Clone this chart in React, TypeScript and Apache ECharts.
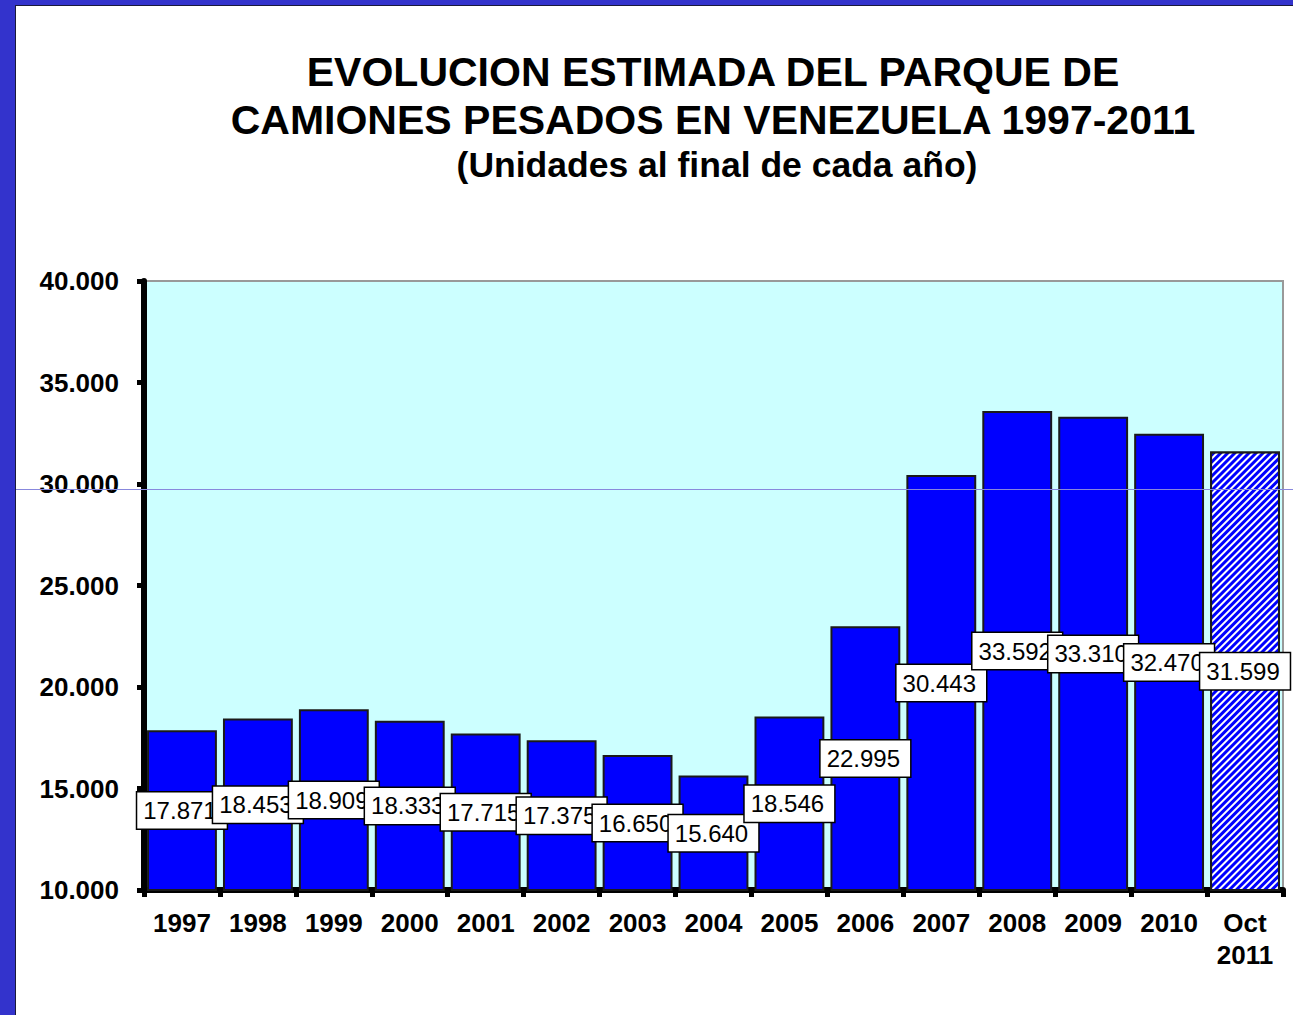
import React, { useEffect, useRef } from "react";
import * as echarts from "echarts";

const categories = ["1997", "1998", "1999", "2000", "2001", "2002", "2003", "2004", "2005", "2006", "2007", "2008", "2009", "2010", "Oct\n2011"];
const values = [17871, 18453, 18909, 18333, 17715, 17375, 16650, 15640, 18546, 22995, 30443, 33592, 33310, 32470, 31599];
const hatchedIndex = [14];
const titleLines = ["EVOLUCION ESTIMADA DEL PARQUE DE", "CAMIONES PESADOS EN VENEZUELA 1997-2011"];
const subtitle = "(Unidades al final de cada año)";
const yMin = 10000;
const yMax = 40000;
const yStep = 5000;

const FONT = "'Liberation Sans', Arial, sans-serif";

function fmt(v: number): string {
  return String(Math.round(v)).replace(/\B(?=(\d{3})+(?!\d))/g, ".");
}

export default function App() {
  const ref = useRef<HTMLDivElement>(null);
  useEffect(() => {
    document.body.style.margin = "0";
    const chart = echarts.init(ref.current as HTMLDivElement, null, { renderer: "svg" });
    chart.setOption({
      animation: false,
      backgroundColor: "#FFFFFF",
      grid: {
        left: 144,
        top: 281,
        width: 1139,
        height: 609,
        show: true,
        backgroundColor: "#CCFFFF",
        borderColor: "#999999",
        borderWidth: 2,
      },
      xAxis: {
        type: "category",
        data: categories,
        axisLine: { lineStyle: { color: "#000", width: 6 } },
        axisTick: { show: true, length: 7, lineStyle: { color: "#000", width: 5 } },
        axisLabel: {
          interval: 0,
          margin: 17,
          fontSize: 26,
          fontWeight: "bold",
          color: "#000",
          fontFamily: FONT,
          lineHeight: 32,
        },
        splitLine: { show: false },
      },
      yAxis: {
        type: "value",
        min: yMin,
        max: yMax,
        interval: yStep,
        axisLine: { show: true, lineStyle: { color: "#000", width: 6 } },
        axisTick: { show: true, length: 7, lineStyle: { color: "#000", width: 5 } },
        axisLabel: {
          margin: 25,
          fontSize: 26,
          fontWeight: "bold",
          color: "#000",
          fontFamily: FONT,
          formatter: (v: number) => fmt(v),
        },
        splitLine: { show: false },
      },
      series: [
        {
          type: "bar",
          barCategoryGap: "8%",
          data: values.map((v, i) =>
            hatchedIndex.includes(i)
              ? {
                  value: v,
                  itemStyle: {
                    color: "#0000FF",
                    decal: {
                      symbol: "rect",
                      symbolSize: 1,
                      color: "#FFFFFF",
                      dashArrayX: [1, 0],
                      dashArrayY: [2, 2.5],
                      rotation: -Math.PI / 4,
                    },
                  },
                }
              : v
          ),
          itemStyle: { color: "#0000FF", borderColor: "#1a1a1a", borderWidth: 2 },
          label: {
            show: true,
            position: "inside",
            formatter: (p: any) => fmt(p.value),
            fontSize: 24,
            fontFamily: FONT,
            color: "#000",
            backgroundColor: "#FFFFFF",
            borderColor: "#000",
            borderWidth: 1.5,
            padding: [5, 10, 5, 6],
            lineHeight: 26,
          },
        },
      ],
      graphic: [
        { type: "rect", z: 100, shape: { x: 0, y: 0, width: 15, height: 1015 }, style: { fill: "#3333CC" } },
        { type: "rect", z: 100, shape: { x: 0, y: 0, width: 1293, height: 5 }, style: { fill: "#3333CC" } },
        { type: "line", z: 100, shape: { x1: 15.5, y1: 5, x2: 15.5, y2: 1015 }, style: { stroke: "#1a1a3a", lineWidth: 1 } },
        { type: "line", z: 100, shape: { x1: 15, y1: 5.5, x2: 1293, y2: 5.5 }, style: { stroke: "#1a1a3a", lineWidth: 1 } },
        { type: "line", z: 90, shape: { x1: 16, y1: 489.5, x2: 1293, y2: 489.5 }, style: { stroke: "#8888DD", lineWidth: 1 } },
        {
          type: "text",
          z: 100,
          x: 713,
          y: 72,
          style: { text: titleLines[0], fontSize: 41, fontWeight: "bold", fontFamily: FONT, fill: "#000", align: "center", verticalAlign: "middle" },
        },
        {
          type: "text",
          z: 100,
          x: 713,
          y: 120,
          style: { text: titleLines[1], fontSize: 41, fontWeight: "bold", fontFamily: FONT, fill: "#000", align: "center", verticalAlign: "middle" },
        },
        {
          type: "text",
          z: 100,
          x: 717,
          y: 165,
          style: { text: subtitle, fontSize: 35.5, fontWeight: "bold", fontFamily: FONT, fill: "#000", align: "center", verticalAlign: "middle" },
        },
      ],
    });
    return () => chart.dispose();
  }, []);
  return <div ref={ref} style={{ position: "absolute", left: 0, top: 0, width: 1293, height: 1015, background: "#FFFFFF" }} />;
}
